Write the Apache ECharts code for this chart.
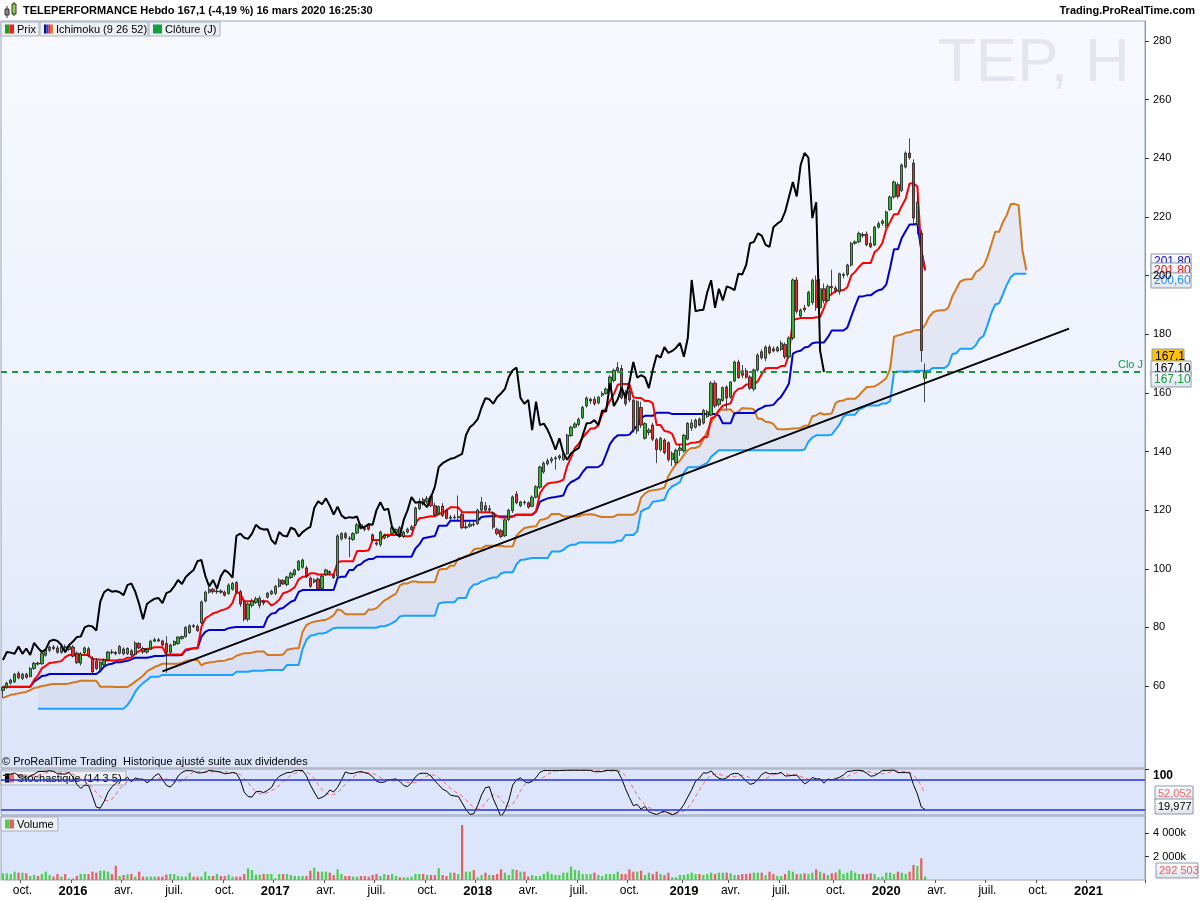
<!DOCTYPE html>
<html><head><meta charset="utf-8">
<script src="https://cdn.jsdelivr.net/npm/echarts@6/dist/echarts.min.js"></script>
<style>html,body{margin:0;padding:0;background:#fff}#c{width:1200px;height:900px}</style>
</head><body><div id="c"></div>
<script>
// ---------- DATA ----------
// weekly candles: [open, high, low, close], first week 2015-08-31
const weeklyOHLC = [
[58.5,60,56,59.5],[59.5,61.5,59,61],[61,62.5,60.5,62],[61.5,64.5,61,64],[64.4,65,62.3,62.8],
[62.6,64.5,62,64],[64,64.5,62.5,63],[63.2,66.5,63,66],[66,68.2,65.5,67.8],[67.8,68.3,67,67.5],
[67.6,71.6,67.2,71.2],[70.5,72.8,70,72.3],[72.2,73.8,71.5,73.3],[73.3,74,72.2,72.8],[73,73.8,71,71.5],
[71.5,74,71,73.5],[73.4,74.2,72.5,73],[72.5,74,72,73.6],[73.3,74,69.8,70.2],[71.2,71.8,67.5,68],
[67.8,71.6,67,71],[71.3,73.5,70.8,73],[72.7,73.4,69.8,70.3],[69.5,70.2,64,64.8],[68.5,69.5,65.5,66],
[66,68.5,65.3,68],[67.2,69.4,66.8,68.9],[68.9,72,68.5,71.6],[71.6,72.5,70.8,71.4],[71.4,72,70.5,71],
[71.2,74,70.8,73.5],[72.6,73.2,70.5,71],[71,73.2,70.6,72.8],[72,72.6,70,70.6],[70.8,75.3,70.5,74.7],
[74.5,75,72.6,73],[72.8,73.5,71,71.6],[71.6,73,71,72.5],[72.5,75.8,72.3,75.3],[75.3,76.5,75,75.8],
[75.8,76.4,75,75.4],[75.4,75.8,73.6,74],[74.5,77,64.5,71.5],[71.5,74.5,71,74],[74,75.6,73.6,75.2],
[74.5,77,74,76.7],[76.2,77.2,75.8,76.9],[76.8,80.5,76.5,80],[78.2,81,77.8,80.6],[80.6,81.2,79.8,80.3],
[80.4,81,78.5,78.9],[81.5,89.2,81.2,88.7],[89,92.5,88.5,92],[92,93.8,91.5,93],[93,93.5,91.5,92.2],
[92.2,93.2,91.4,92.4],[92.4,93,91.5,92],[92,92.6,90.5,91],[91.5,95,91.2,94.4],[93,95.5,92.5,95],
[95.3,95.8,91.5,92.2],[92.2,92.8,87,88],[88.5,89.5,82,82.8],[82.8,88.5,82,88],[87.5,89.8,86.8,89],
[88.5,90.5,88,89.8],[87.5,90.8,86.5,90],[89,89.5,87.5,88.3],[90.3,92,89.8,91.7],[91.4,92.8,91,92.3],
[91.6,94.5,91,94],[94,96.8,93.6,96.2],[96,96.5,94.5,94.8],[94.6,97.6,94,97.2],[97,99,96.5,98.5],
[98,100,97.3,99.6],[99.6,103,99.2,102.6],[100.5,103.5,100,103],[100.3,101,97,97.6],[96.8,97.4,93.5,94],
[95.5,96.8,95,96.2],[96.5,97,92.6,93.2],[93.2,98,92.6,97.5],[98,100,97.6,99.6],[99,99.5,98,98.6],
[97.8,98.2,96.5,97],[97.5,111.8,97,111.2],[110.2,112.5,109.6,112],[112,112.6,110,110.6],[110.4,111.2,104,110.2],
[110,112.5,109.5,112],[112.2,115.6,111.8,115],[115,115.5,113.4,113.8],[113.8,114.6,112.8,113.4],[115,115.6,113,113.5],
[111.6,112,109.4,109.8],[108.8,109.4,107.8,108.4],[108.2,113,107.5,112.5],[110.5,112,110,111.3],[111.2,112,110.4,111],
[112,114.4,111.6,114],[112.4,113.8,112,113.4],[114,114.6,110.6,111],[111,113,110.5,112.5],[112.5,114,112,113.5],
[113.4,115,113,114.3],[115,121.2,114.6,120.7],[120.5,124,120,123],[123.6,124.3,121.5,122],[122.8,124.8,122.2,124],
[124.6,125.3,121,121.5],[121.5,122.5,118,118.5],[118.9,121.6,118.4,121.2],[121.4,122.4,117.6,118.2],[119.8,120.5,116.8,117.2],
[117.2,118.3,116.6,117.6],[117.6,118.5,116.8,117.4],[117.4,125,116.5,117.8],[118.6,119.5,113.5,114],[114,116.5,113.5,114.3],
[114.5,116,114,115.2],[115.2,116,114.4,115],[115.3,120.5,115,120],[120,124.5,119.5,122.7],[121.5,122.8,119.5,120],
[120,121.7,119.2,120.5],[119,119.5,113.5,114.2],[113.5,114,111.4,112],[113,113.6,110.4,111],[111.3,117.2,110.8,116.7],
[116.8,120.5,116.2,120],[119.8,125,119,124.5],[125.5,126.5,122,122.5],[121.5,123.2,121,122.8],[122.8,123.3,121.8,122.5],
[122.5,123,120.5,121],[121.3,125,121,124.4],[124.4,128.5,124,128],[127.8,135.2,127.2,134.7],[133,136.6,132.4,136],
[135.8,137.6,135.2,136.8],[136.8,138.2,136,137.5],[137.5,138.5,133.8,137.8],[137.8,139,137,138.5],[137.2,139.6,136.8,139.2],
[139.2,146,138.8,145.6],[145.4,148.8,145,148.3],[148.3,150,147.8,149.4],[149.2,151.6,148.6,151],[151.5,155.6,151,155],
[155.5,158.8,155,158.2],[157.2,158.4,156.2,157.8],[157.8,158.8,155.6,156.3],[156.6,159,156,158.5],[159.2,160.5,158.6,159.8],
[159.8,161.8,159.4,161.3],[161.5,166,161,165.4],[164.2,168.3,163.5,167.7],[167.5,170.5,166.8,168.6],[168.3,169.5,157.8,158.3],
[160,161,155.5,156.3],[160.5,162,156.8,157.6],[157.5,158,146.5,147.3],[147,157.5,146,157],[155,157,148,149],
[144.5,150,144,149.5],[146.5,148,145.5,147.3],[149,149.8,143.5,144.2],[144,144.6,136,140.6],[140.6,145,140,144.5],
[143.9,144.5,139,139.6],[143,143.5,136.5,137.2],[137.2,140,135,139.4],[136.2,141,135.4,140.4],[140.4,142.5,138.5,141.2],
[140.2,146,139.6,145.5],[144.2,150,143.8,149.6],[148,151,147,149.7],[148.3,151.2,147.8,150.7],[151,151.6,148.6,149],
[149.7,154.5,149.2,154],[151.9,154.2,151.4,153.6],[152.4,164,152,163.3],[163.3,164.2,154.8,155.5],[156,158.3,155.3,157.8],
[157.4,162.2,157,161.8],[162,162.6,154.4,158.2],[158.5,164,158,163.7],[164,171,163.7,170.5],[170.5,171.3,164.8,165.2],
[167.5,169.5,165,166],[167.5,168.5,164.8,165.3],[165.4,166,161,161.6],[161.3,168.3,160.5,167.8],[167.8,173.5,167.2,172.9],
[174,174.8,171.4,172],[171.8,176.2,170.8,175.6],[175.6,176.4,173,173.6],[175,175.8,173.8,174.3],[174.3,176,173.8,175.4],
[174.8,177.8,174.2,177],[176.5,177.2,171.5,172.3],[172.2,179.3,171.6,178.7],[178.7,199,178,198.5],[198.5,199.5,187,187.8],
[186.2,188.8,185.4,188.2],[188.9,190,187.5,188.3],[189.8,194.8,189.3,194.3],[190.8,199,190,198.4],[198.4,200,188,189],
[189,198.8,188.5,195.5],[195.5,197.3,190.5,191.5],[191.5,197,191,196.3],[196.3,202,193.5,195.8],[195.8,196.5,194,195],
[194.5,201,193.5,200.6],[200,201,199,200.4],[200.4,204,199.6,203.6],[203.6,211.5,203,211],[211,212,210.5,211.5],
[211.5,215,211,214.4],[214,214.8,212.8,213.6],[214.2,215,210,210.5],[211,213.5,209.3,209.8],[210.4,217,210,216.5],
[216.5,218.5,216,217.7],[217.8,219.2,217,218.6],[217,222.2,216.2,221.7],[222.5,227.3,222,226.8],[226.8,232.5,226.2,231.9],
[231,231.8,226.2,227],[229,238.2,228.5,237.7],[237,242.4,236.5,241.8],[241.8,246.8,239.5,240.2],[238.4,239.6,217.5,219.6],
[217.2,227,214,225],[214.5,215.5,170.5,174.4],[165,170,156.8,167.1]
];
// weekly volume, thousands of shares
const volumeK = [
570,570,513,713,627,627,570,342,428,342, 513,713,428,285,513,285,513,114,114,342,
513,513,513,713,627,798,798,713,513,1226, 342,428,485,513,285,713,285,285,285,285,
285,285,456,513,513,342,285,285,627,285, 285,285,713,342,342,513,342,342,456,285,
285,285,513,998,855,456,456,513,513,513, 142,513,513,513,428,342,342,342,342,798,
1055,713,713,713,627,428,912,513,342,342, 285,285,342,342,285,428,513,342,513,428,
513,342,228,228,228,285,513,513,513,428, 428,428,998,428,342,627,627,513,4703,713,
713,855,228,428,627,428,428,513,912,627, 428,912,855,713,713,285,428,342,342,513,
713,513,428,428,627,627,1140,855,798,513, 513,513,627,428,
342,513,513,513,713,513,513,912,713,713, 798,428,627,513,713,513,428,627,228,228,
428,428,513,627,513,513,428,513,627,513, 627,627,627,570,428,428,513,513,570,627,
627,627,428,713,513,342,342,513,798,713, 513,513,570,513,627,912,713,570,428,570,
627,912,513,627,798,627,513,513,513,570, 513,228,285,627,627,513,713,627,513,713,
1283,1197,1853,292.503
];
// Ichimoku line values at the left edge (their history lies before the first visible candle)
const tenkanStart = [59.7,59.7,59.7,59.7,59.7,59.7,59.7,59.7];
const kijunStart = [59.8,59.8,59.8,59.8,59.8,59.8,59.8,59.8,61.5,62.4,63.4,63.6,
  64.1,64.1,64.1,64.1,64.1,64.1,64.1,64.1,64.1,64.1,64.1,64.1,64.1];
const spanAStart = [55.9,56.5,57,57.2,57.5,57.8,58,58.6,59.3,59.6,
  60,60.2,60.5,60.7,60.7,60.7,60.7,60.9,61.2,61.5,
  61.8,61.8,61.8,61.8,61.8,59.8,59.8,59.8,59.8,59.7,
  59.7,59.7,59.7,60.5,61.5,62.5,63.5,65,65.8,66.5,
  67,67.6,67.6,67.6,67.6,67.6,68,68.5,68.9,68.9,68.9];
const spanBStart = [null,null,null,null,null,null,null,null,null,
  52.3,52.3,52.3,52.3,52.3,52.3,52.3,52.3,52.3,52.3,52.3,52.3,52.3,52.3,52.3,52.3,52.3,52.3,52.3,52.3,52.3,52.3,52.3,
  53.5,55.5,58,59.8,61,62,63.2,63.2,63.2,
  63.8,63.8,63.8,63.8,63.8,63.8,63.8,63.8,63.8,63.8,63.8,63.8,63.8,63.8,63.8,63.8,63.8,63.8,63.8,
  64.9,64.9,64.9,64.9,65.2,65.2,65.2,65.2,65.5,65.5,65.5,65.5,65.5,67.2,67.2,67.2,67.2];
// trend line drawn on the chart [week, price]
const trendLine = [['2016-06-13', 65.0], ['2020-11-30', 181.9]];
const closeLine = 167.1;            // "Clo J"
const stochLast = {d: 52.052, k: 19.977};
const priceTicks = [60,80,100,120,140,160,180,200,220,240,260,280];
const volumeTicks = [2000, 4000];
const xTickLabels = [
 ['2015-10-05','oct.'],['2016-01-04','2016'],['2016-04-04','avr.'],['2016-07-04','juil.'],['2016-10-03','oct.'],
 ['2017-01-02','2017'],['2017-04-03','avr.'],['2017-07-03','juil.'],['2017-10-02','oct.'],
 ['2018-01-01','2018'],['2018-04-02','avr.'],['2018-07-02','juil.'],['2018-10-01','oct.'],
 ['2019-01-07','2019'],['2019-04-01','avr.'],['2019-07-01','juil.'],['2019-10-07','oct.'],
 ['2020-01-06','2020'],['2020-04-06','avr.'],['2020-07-06','juil.'],['2020-10-05','oct.'],['2021-01-04','2021']
];

// ---------- weekly axis ----------
const FONT = '"Liberation Sans", Arial, sans-serif';
const weekCount = 294;
const categories = [];
for (let k = 0; k < weekCount; k++) {
  categories.push(new Date(Date.UTC(2015, 7, 31) + k * 7 * 864e5).toISOString().slice(0, 10));
}
const labelMap = new Map(xTickLabels);

// ---------- indicators built from the candles ----------
const N = weeklyOHLC.length;
const opens = weeklyOHLC.map(r => r[0]), highs = weeklyOHLC.map(r => r[1]),
      lows = weeklyOHLC.map(r => r[2]), closes = weeklyOHLC.map(r => r[3]);
function midRange(a, b) {
  let hi = -Infinity, lo = Infinity;
  for (let k = Math.max(0, a); k <= b; k++) { hi = Math.max(hi, highs[k]); lo = Math.min(lo, lows[k]); }
  return +((hi + lo) / 2).toFixed(2);
}
const tenkan = closes.map((_, i) => i < tenkanStart.length ? tenkanStart[i] : midRange(i - 8, i));
const kijun = closes.map((_, i) => i < kijunStart.length ? kijunStart[i] : midRange(i - 25, i));
const spanA = [], spanB = [];
for (let j = 0; j < N + 26; j++) {
  spanA.push(j < spanAStart.length ? spanAStart[j] : +((tenkan[j - 26] + kijun[j - 26]) / 2).toFixed(2));
  spanB.push(j < spanBStart.length ? spanBStart[j] : midRange(j - 77, j - 26));
}
const chikou = closes.map((_, i) => i + 26 < N ? closes[i + 26] : null);
const cloudBase = spanA.map((a, j) => (a == null || spanB[j] == null) ? null : Math.min(a, spanB[j]));
const cloudBand = spanA.map((a, j) => (a == null || spanB[j] == null) ? null : +Math.abs(a - spanB[j]).toFixed(2));
// stochastic (14 3 5)
const rawK = closes.map((c, i) => {
  let hi = -Infinity, lo = Infinity;
  for (let k = Math.max(0, i - 13); k <= i; k++) { hi = Math.max(hi, highs[k]); lo = Math.min(lo, lows[k]); }
  return hi > lo ? (c - lo) / (hi - lo) * 100 : 50;
});
function sma(arr, n) { return arr.map((_, i) => { const s = arr.slice(Math.max(0, i - n + 1), i + 1); return +(s.reduce((a, b) => a + b, 0) / s.length).toFixed(2); }); }
const stochK = sma(rawK, 3);
const stochD = sma(stochK, 5);

const candleData = weeklyOHLC.map(r => [r[0], r[3], r[2], r[1]]);
const volData = volumeK.map((v, i) => ({ value: v, itemStyle: { color: closes[i] >= opens[i] ? '#4fcf4f' : '#ec5f5f' } }));

// ---------- chart ----------
const chart = echarts.init(document.getElementById('c'), null, { renderer: 'canvas' });
const axisLineStyle = { show: true, lineStyle: { color: '#8f9aae', width: 1 } };
const catAxis = (gi, showLabels) => ({
  type: 'category', gridIndex: gi, data: categories, boundaryGap: true,
  axisLine: { show: false },
  axisTick: showLabels ? { show: true, length: 3, interval: (i, v) => labelMap.has(v), lineStyle: { color: '#555' } } : { show: false },
  axisLabel: showLabels ? {
    show: true, interval: (i, v) => labelMap.has(v), margin: 5,
    formatter: v => { const t = labelMap.get(v) || ''; return /^\d{4}$/.test(t) ? '{y|' + t + '}' : '{m|' + t + '}'; },
    rich: { y: { fontFamily: FONT, fontSize: 13, fontWeight: 'bold', color: '#000' }, m: { fontFamily: FONT, fontSize: 12, color: '#000' } }
  } : { show: false },
  splitLine: { show: false }
});
const lineSeries = (name, data, color, width, extra) => Object.assign({
  name, type: 'line', xAxisIndex: 0, yAxisIndex: 0, data, symbol: 'none', showSymbol: false,
  lineStyle: { color, width }, z: 3, silent: true
}, extra || {});

const option = {
  animation: false,
  backgroundColor: '#ffffff',
  grid: [
    { left: 1, right: 55, top: 21, height: 747, show: true, borderColor: '#97a2b5', borderWidth: 1, outerBoundsMode: 'none',
      backgroundColor: { type: 'linear', x: 0, y: 0, x2: 0, y2: 1, colorStops: [
        { offset: 0, color: '#f8f9fe' }, { offset: 0.5, color: '#eef2fc' }, { offset: 1, color: '#dbe4f9' }] } },
    { left: 1, right: 55, top: 769, height: 46, show: true, borderColor: '#97a2b5', borderWidth: 1, backgroundColor: '#dce5fb', outerBoundsMode: 'none' },
    { left: 1, right: 55, top: 816, height: 64, show: true, borderColor: '#97a2b5', borderWidth: 1, backgroundColor: '#dbe5fb', outerBoundsMode: 'none' }
  ],
  xAxis: [catAxis(0, false), catAxis(1, false), catAxis(2, true)],
  yAxis: [
    { type: 'value', gridIndex: 0, position: 'right', min: 32.05, max: 286.82, scale: true,
      axisLine: axisLineStyle, splitLine: { show: false },
      axisTick: { show: true, length: 4, customValues: priceTicks, lineStyle: { color: '#333' } },
      axisLabel: { customValues: priceTicks, margin: 8, color: '#000', fontFamily: FONT, fontSize: 11 } },
    { type: 'value', gridIndex: 1, position: 'right', min: 8.6, max: 100.6,
      axisLine: axisLineStyle, splitLine: { show: false },
      axisTick: { show: true, length: 4, customValues: [100], lineStyle: { color: '#333' } },
      axisLabel: { customValues: [100], margin: 8, color: '#000', fontFamily: FONT, fontSize: 12, fontWeight: 'bold', verticalAlign: 'top' } },
    { type: 'value', gridIndex: 2, position: 'right', min: 0, max: 5470,
      axisLine: axisLineStyle, splitLine: { show: false },
      axisTick: { show: true, length: 4, customValues: volumeTicks, lineStyle: { color: '#333' } },
      axisLabel: { customValues: volumeTicks, margin: 8, color: '#000', fontFamily: FONT, fontSize: 11,
        formatter: v => (v / 1000) + ' 000k' } }
  ],
  series: [
    lineSeries('cloudBase', cloudBase, 'transparent', 0, { stack: 'cloud', z: 1, lineStyle: { opacity: 0 } }),
    lineSeries('cloud', cloudBand, 'transparent', 0, { stack: 'cloud', z: 1, lineStyle: { opacity: 0 },
      areaStyle: { color: 'rgba(200,204,220,0.42)' } }),
    lineSeries('Senkou B', spanB, '#1aa0ff', 2),
    lineSeries('Senkou A', spanA, '#d2781f', 2),
    lineSeries('Chikou', chikou, '#000000', 2, { z: 5 }),
    lineSeries('Kijun', kijun, '#0000c8', 2),
    lineSeries('Tenkan', tenkan, '#ff0000', 2),
    { name: 'Prix', type: 'candlestick', xAxisIndex: 0, yAxisIndex: 0, data: candleData, barWidth: '72%', z: 4, silent: true,
      itemStyle: { color: '#36b336', color0: '#ee2b2b', borderColor: '#1c1c1c', borderColor0: '#1c1c1c', borderWidth: 0.8 },
      markLine: { silent: true, symbol: 'none', animation: false, data: [
        { yAxis: closeLine, lineStyle: { color: '#189a3c', width: 2, type: [6, 5] },
          label: { show: true, position: 'insideEndTop', formatter: 'Clo J', color: '#189a3c', fontFamily: FONT, fontSize: 11, distance: 2 } },
        [ { coord: trendLine[0], lineStyle: { color: '#000', width: 2, type: 'solid' }, label: { show: false } },
          { coord: trendLine[1] } ]
      ] } },
    { name: 'Stoch K', type: 'line', xAxisIndex: 1, yAxisIndex: 1, data: stochK, symbol: 'none', silent: true,
      lineStyle: { color: '#000', width: 1 }, z: 4,
      markLine: { silent: true, symbol: 'none', animation: false, label: { show: false },
        lineStyle: { color: '#2230e0', width: 1.5, type: 'solid' }, data: [{ yAxis: 80 }, { yAxis: 20 }] } },
    { name: 'Stoch D', type: 'line', xAxisIndex: 1, yAxisIndex: 1, data: stochD, symbol: 'none', silent: true,
      lineStyle: { color: '#f06a6a', width: 1, type: [4, 3] }, z: 3 },
    { name: 'Volume', type: 'bar', xAxisIndex: 2, yAxisIndex: 2, data: volData, barWidth: '58%', silent: true }
  ]
};
chart.setOption(option);

// ---------- annotations ----------
const tagBg = { type: 'linear', x: 0, y: 0, x2: 0, y2: 1, colorStops: [{ offset: 0, color: '#ffffff' }, { offset: 1, color: '#dce2ec' }] };
function tag(yCenter, text, color, bg, x, w, fs) {
  return { type: 'group', x: x, y: Math.round(yCenter - 7.5), z: 100, children: [
    { type: 'rect', shape: { x: 0, y: 0, width: w, height: 15 }, style: { fill: bg, stroke: '#8d98ab', lineWidth: 1 } },
    { type: 'text', x: 3, y: 8, style: { text: text, fill: color, font: (fs || 12) + 'px ' + FONT, verticalAlign: 'middle' } }
  ] };
}
const fmt2 = v => v.toFixed(2).replace('.', ',');
const yP = v => chart.convertToPixel({ yAxisIndex: 0 }, v);
const yS = v => chart.convertToPixel({ yAxisIndex: 1 }, v);
const yV = v => chart.convertToPixel({ yAxisIndex: 2 }, v);
const lastClose = closes[N - 1];
const lastVol = volumeK[volumeK.length - 1];

function legendBox(x, y, w, icon, text) {
  const kids = [{ type: 'rect', shape: { x: 0, y: 0, width: w, height: 14 }, style: { fill: '#eceff4', stroke: '#a9b1bf', lineWidth: 1 } }];
  const sw = 9 / icon.length;
  icon.forEach((c, k) => kids.push({ type: 'rect', shape: { x: 4 + k * sw, y: 2.5, width: sw, height: 9 }, style: { fill: c } }));
  kids.push({ type: 'text', x: 16, y: 7.5, style: { text: text, fill: '#000', font: '11px ' + FONT, verticalAlign: 'middle' } });
  return { type: 'group', x: x, y: y, z: 100, children: kids };
}

const graphics = [
  // header
  { type: 'rect', shape: { x: 0, y: 0, width: 1200, height: 20 }, style: { fill: '#ffffff' }, z: 90 },
  { type: 'line', shape: { x1: 7, y1: 6, x2: 7, y2: 18 }, style: { stroke: '#333', lineWidth: 1 }, z: 100 },
  { type: 'rect', shape: { x: 5, y: 9, width: 4, height: 6 }, style: { fill: '#8a8a8a', stroke: '#333', lineWidth: 1 }, z: 100 },
  { type: 'line', shape: { x1: 14, y1: 2, x2: 14, y2: 16 }, style: { stroke: '#333', lineWidth: 1 }, z: 100 },
  { type: 'rect', shape: { x: 12, y: 4, width: 4, height: 10 }, style: { fill: '#8fd14f', stroke: '#333', lineWidth: 1 }, z: 100 },
  { type: 'text', x: 23, y: 11, z: 100, style: { text: 'TELEPERFORMANCE Hebdo 167,1 (-4,19 %) 16 mars 2020 16:25:30', font: 'bold 11px ' + FONT, fill: '#000', verticalAlign: 'middle' } },
  { type: 'text', x: 1195, y: 11, z: 100, style: { text: 'Trading.ProRealTime.com', font: 'bold 11px ' + FONT, fill: '#000', align: 'right', verticalAlign: 'middle' } },
  // legends
  legendBox(1, 22, 38, ['#1e9e1e', '#ff1a1a'], 'Prix'),
  legendBox(40, 22, 108, ['#101060', '#2040ff', '#ff2020', '#e08020'], 'Ichimoku (9 26 52)'),
  legendBox(149, 22, 71, ['#14a040'], 'Clôture (J)'),
  legendBox(1, 771, 125, ['#000000', '#f06a6a'], 'Stochastique (14 3 5)'),
  legendBox(1, 817, 57, ['#4fcf4f', '#ec5f5f'], 'Volume'),
  { type: 'text', x: 2, y: 762, z: 100, style: { text: '© ProRealTime Trading  Historique ajusté suite aux dividendes', font: '11px ' + FONT, fill: '#000', verticalAlign: 'middle' } },
  // watermark
  { type: 'text', x: 938, y: 64, z: 1, style: { text: 'TEP, H', font: '62px ' + FONT, fill: '#e3e6ee', verticalAlign: 'middle' } },
  // value tags on the price scale
  tag(yP(kijun[N - 1]) - 8.5, fmt2(kijun[N - 1]), '#1010c0', tagBg, 1151, 40),
  tag(yP(tenkan[N - 1]), fmt2(tenkan[N - 1]), '#f01010', tagBg, 1151, 40),
  tag(yP(spanB[spanB.length - 1]) + 6.5, fmt2(spanB[spanB.length - 1]), '#1e90ff', tagBg, 1151, 40),
  tag(yP(lastClose) - 15.5, String(lastClose).replace('.', ','), '#000', '#ffc400', 1152, 32),
  tag(yP(chikou[N - 27]) - 4, fmt2(chikou[N - 27]), '#000', tagBg, 1151, 40),
  tag(yP(closeLine) + 7, fmt2(closeLine), '#189a3c', tagBg, 1151, 40),
  // stochastic tags
  tag(yS(stochLast.d), String(stochLast.d).replace('.', ','), '#f06a6a', tagBg, 1155, 38, 11),
  tag(yS(stochLast.k) - 3, String(stochLast.k).replace('.', ','), '#000', tagBg, 1155, 38, 11),
  // volume tag
  tag(yV(lastVol) - 6.5, String(Math.round(lastVol * 1000)).replace(/(\d{3})$/, ' $1'), '#ec5f5f', tagBg, 1156, 42, 11)
];
chart.setOption({ graphic: graphics });
</script></body></html>
